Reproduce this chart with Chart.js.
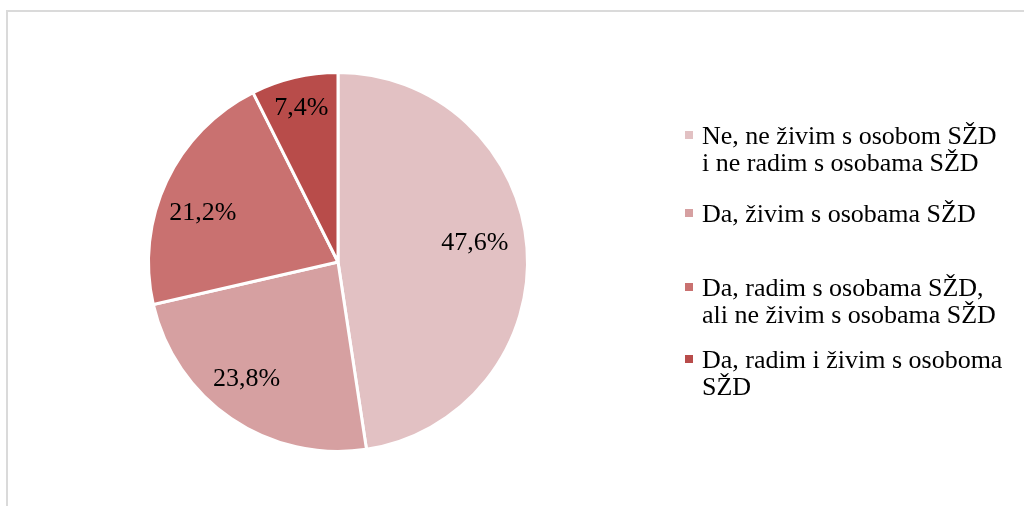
<!DOCTYPE html>
<html>
<head>
<meta charset="utf-8">
<script src="https://cdn.jsdelivr.net/npm/chart.js@4"></script>
<style>
  html, body { margin: 0; padding: 0; background: #fff; overflow: hidden; }
  #frame {
    position: absolute; left: 6px; top: 10px; width: 1030px; height: 510px;
    border-left: 2px solid #dadada; border-top: 2px solid #dadada;
  }
  #wrap { position: absolute; left: 0; top: 0; width: 1024px; height: 506px; }
</style>
</head>
<body>
<div id="frame"></div>
<div id="wrap"><canvas id="myChart"></canvas></div>
<script>
// Answers (share of respondents, %)
var categories = [
    ["Ne, ne živim s osobom SŽD", "i ne radim s osobama SŽD"],
    ["Da, živim s osobama SŽD"],
    ["Da, radim s osobama SŽD,", "ali ne živim s osobama SŽD"],
    ["Da, radim i živim s osoboma", "SŽD"]
];
var values = [47.6, 23.8, 21.2, 7.4];
var sliceColors = ["#e2c1c3", "#d6a0a1", "#c97170", "#b84c4a"];

var serif = "'Liberation Serif', 'Times New Roman', serif";

// Percent labels inside the slices
var sliceLabels = {
    id: "sliceLabels",
    afterDatasetsDraw: function(chart) {
        var ctx = chart.ctx;
        var meta = chart.getDatasetMeta(0);
        // radial distance (share of radius) and angle nudge (degrees) per label
        var dist = [0.73, 0.78, 0.76, 0.84];
        var nudge = [-4, 4, -5, 0];
        ctx.save();
        ctx.font = "26px " + serif;
        ctx.fillStyle = "#000";
        ctx.textAlign = "center";
        ctx.textBaseline = "middle";
        meta.data.forEach(function(arc, i) {
            var p = arc.getProps(["x", "y", "startAngle", "endAngle", "outerRadius"], true);
            var mid = (p.startAngle + p.endAngle) / 2 + nudge[i] * Math.PI / 180;
            var r = p.outerRadius * dist[i];
            var text = values[i].toFixed(1).replace(".", ",") + "%";
            ctx.fillText(text, p.x + Math.cos(mid) * r, p.y + Math.sin(mid) * r + 1);
        });
        ctx.restore();
    }
};

// Legend on the right, Excel style (square marker + wrapped text)
var sideLegend = {
    id: "sideLegend",
    afterDraw: function(chart) {
        var ctx = chart.ctx;
        var tops = [135, 213, 287, 359];
        var lineH = 27;
        ctx.save();
        ctx.font = "26px " + serif;
        ctx.textBaseline = "middle";
        ctx.textAlign = "left";
        categories.forEach(function(lines, i) {
            ctx.fillStyle = sliceColors[i];
            ctx.fillRect(685, tops[i] - 4, 8, 8);
            ctx.fillStyle = "#000";
            lines.forEach(function(line, j) {
                ctx.fillText(line, 702, tops[i] + 2 + j * lineH);
            });
        });
        ctx.restore();
    }
};

var canvas = document.getElementById("myChart");
new Chart(canvas.getContext("2d"), {
    type: "pie",
    data: {
        labels: categories.map(function(l) { return l.join(" "); }),
        datasets: [{
            data: values,
            backgroundColor: sliceColors,
            borderColor: "#ffffff",
            borderWidth: 3
        }]
    },
    options: {
        responsive: true,
        maintainAspectRatio: false,
        animation: false,
        layout: { padding: { left: 147, top: 71, bottom: 53, right: 495 } },
        plugins: {
            legend: { display: false },
            tooltip: { enabled: false }
        }
    },
    plugins: [sliceLabels, sideLegend]
});
</script>
</body>
</html>
